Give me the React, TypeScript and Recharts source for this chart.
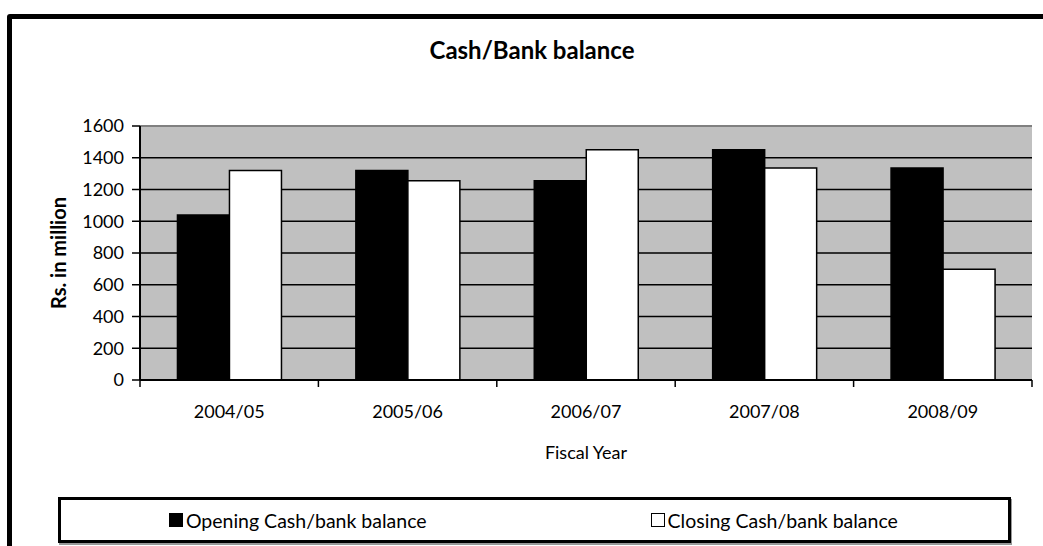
import { BarChart, Bar, XAxis, YAxis, CartesianGrid, ReferenceLine } from 'recharts'

const years = ['2004/05', '2005/06', '2006/07', '2007/08', '2008/09']
const openingBalance = [1040, 1320, 1255, 1450, 1335]
const closingBalance = [1320, 1255, 1450, 1335, 697]
const yTicks = [0, 200, 400, 600, 800, 1000, 1200, 1400, 1600]
const seriesNames = ['Opening Cash/bank balance', 'Closing Cash/bank balance']

const FONT = 'Lato, "Open Sans", sans-serif'
const X_TICK_MARGIN = 25
const X_TICK_LEN = 7

const data = years.map((year, i) => ({
  year,
  opening: openingBalance[i],
  closing: closingBalance[i],
}))

function YTitle({ viewBox }: any) {
  const cx = viewBox.x + 38
  const cy = viewBox.y + viewBox.height / 2
  return (
    <text
      x={cx}
      y={cy}
      transform={`rotate(-90 ${cx} ${cy})`}
      textAnchor="middle"
      dominantBaseline="central"
      fontSize={20}
      fontWeight={700}
      fill="#000"
      fontFamily={FONT}
    >
      Rs. in million
    </text>
  )
}

function XTitle({ viewBox }: any) {
  return (
    <text
      x={viewBox.x + viewBox.width / 2}
      y={viewBox.y + 72}
      textAnchor="middle"
      dominantBaseline="central"
      fontSize={18}
      fill="#000"
      fontFamily={FONT}
    >
      Fiscal Year
    </text>
  )
}

// Excel-style category axis: tick marks sit between categories, label in the middle
function YearTick({ x, y, payload, index }: any) {
  const half = payload.offset || 0
  const axisY = y - X_TICK_MARGIN
  const isLast = index === years.length - 1
  return (
    <g>
      <line x1={x - half} x2={x - half} y1={axisY} y2={axisY + X_TICK_LEN} stroke="#000" strokeWidth={1.5} />
      {isLast && (
        <line x1={x + half} x2={x + half} y1={axisY} y2={axisY + X_TICK_LEN} stroke="#000" strokeWidth={1.5} />
      )}
      <text x={x} y={y} dy="0.71em" textAnchor="middle" fontSize={18} fill="#000" fontFamily={FONT}>
        {payload.value}
      </text>
    </g>
  )
}

function LegendSwatch({ fill }: { fill: string }) {
  return (
    <span
      style={{
        display: 'inline-block',
        width: 14,
        height: 14,
        background: fill,
        border: '1.5px solid #000',
        marginRight: 3,
        boxSizing: 'border-box',
      }}
    />
  )
}

export default function App() {
  return (
    <div
      style={{
        position: 'fixed',
        left: 0,
        top: 0,
        width: 1043,
        height: 546,
        overflow: 'hidden',
        background: '#fff',
        fontFamily: FONT,
      }}
    >
      {/* outer chart frame, runs off the right and bottom edges */}
      <div
        style={{
          position: 'absolute',
          left: 7,
          top: 14,
          width: 1100,
          height: 600,
          border: '5px solid #000',
          borderRadius: 3,
          boxShadow: '1px 1px 0 #999',
          boxSizing: 'border-box',
        }}
      />

      <div
        style={{
          position: 'absolute',
          left: 0,
          top: 35,
          width: 1064,
          textAlign: 'center',
          fontSize: 24,
          fontWeight: 700,
          color: '#000',
        }}
      >
        Cash/Bank balance
      </div>

      <div style={{ position: 'absolute', left: 0, top: 0 }}>
        <BarChart
          width={1043}
          height={546}
          data={data}
          margin={{ top: 126, right: 11, bottom: 80, left: 20 }}
          barGap={0}
          barCategoryGap="21%"
        >
          <CartesianGrid vertical={false} fill="#c0c0c0" fillOpacity={1} stroke="#000" strokeWidth={1.6} />
          <XAxis
            dataKey="year"
            height={86}
            tickSize={0}
            tickMargin={X_TICK_MARGIN}
            tickLine={false}
            interval={0}
            axisLine={{ stroke: '#000', strokeWidth: 2 }}
            tick={<YearTick />}
            label={<XTitle />}
          />
          <YAxis
            width={120}
            domain={[0, 1600]}
            ticks={yTicks}
            interval={0}
            tickSize={8}
            tickMargin={8}
            tick={{ fill: '#000', fontSize: 18, fontFamily: FONT }}
            tickLine={{ stroke: '#000', strokeWidth: 1.5 }}
            axisLine={{ stroke: '#000', strokeWidth: 2 }}
            label={<YTitle />}
          />
          <YAxis
            yAxisId="frame"
            orientation="right"
            width={0}
            domain={[0, 1600]}
            tick={false}
            tickLine={false}
            axisLine={{ stroke: '#808080', strokeWidth: 2 }}
          />
          <ReferenceLine y={1600} stroke="#808080" strokeWidth={2} />
          <Bar dataKey="opening" name={seriesNames[0]} fill="#000" stroke="#000" strokeWidth={1.5} isAnimationActive={false} />
          <Bar dataKey="closing" name={seriesNames[1]} fill="#fff" stroke="#000" strokeWidth={1.5} isAnimationActive={false} />
        </BarChart>
      </div>

      {/* legend */}
      <div
        style={{
          position: 'absolute',
          left: 58,
          top: 497,
          width: 953,
          height: 46,
          border: '3px solid #000',
          boxSizing: 'border-box',
          boxShadow: '1px 2px 0 #999',
          display: 'grid',
          gridTemplateColumns: '1fr 1fr',
          alignItems: 'center',
          fontSize: 19.5,
          color: '#000',
        }}
      >
        <div style={{ display: 'flex', alignItems: 'center', justifyContent: 'center' }}>
          <LegendSwatch fill="#000" />
          {seriesNames[0]}
        </div>
        <div style={{ display: 'flex', alignItems: 'center', justifyContent: 'center', paddingLeft: 6 }}>
          <LegendSwatch fill="#fff" />
          {seriesNames[1]}
        </div>
      </div>
    </div>
  )
}
